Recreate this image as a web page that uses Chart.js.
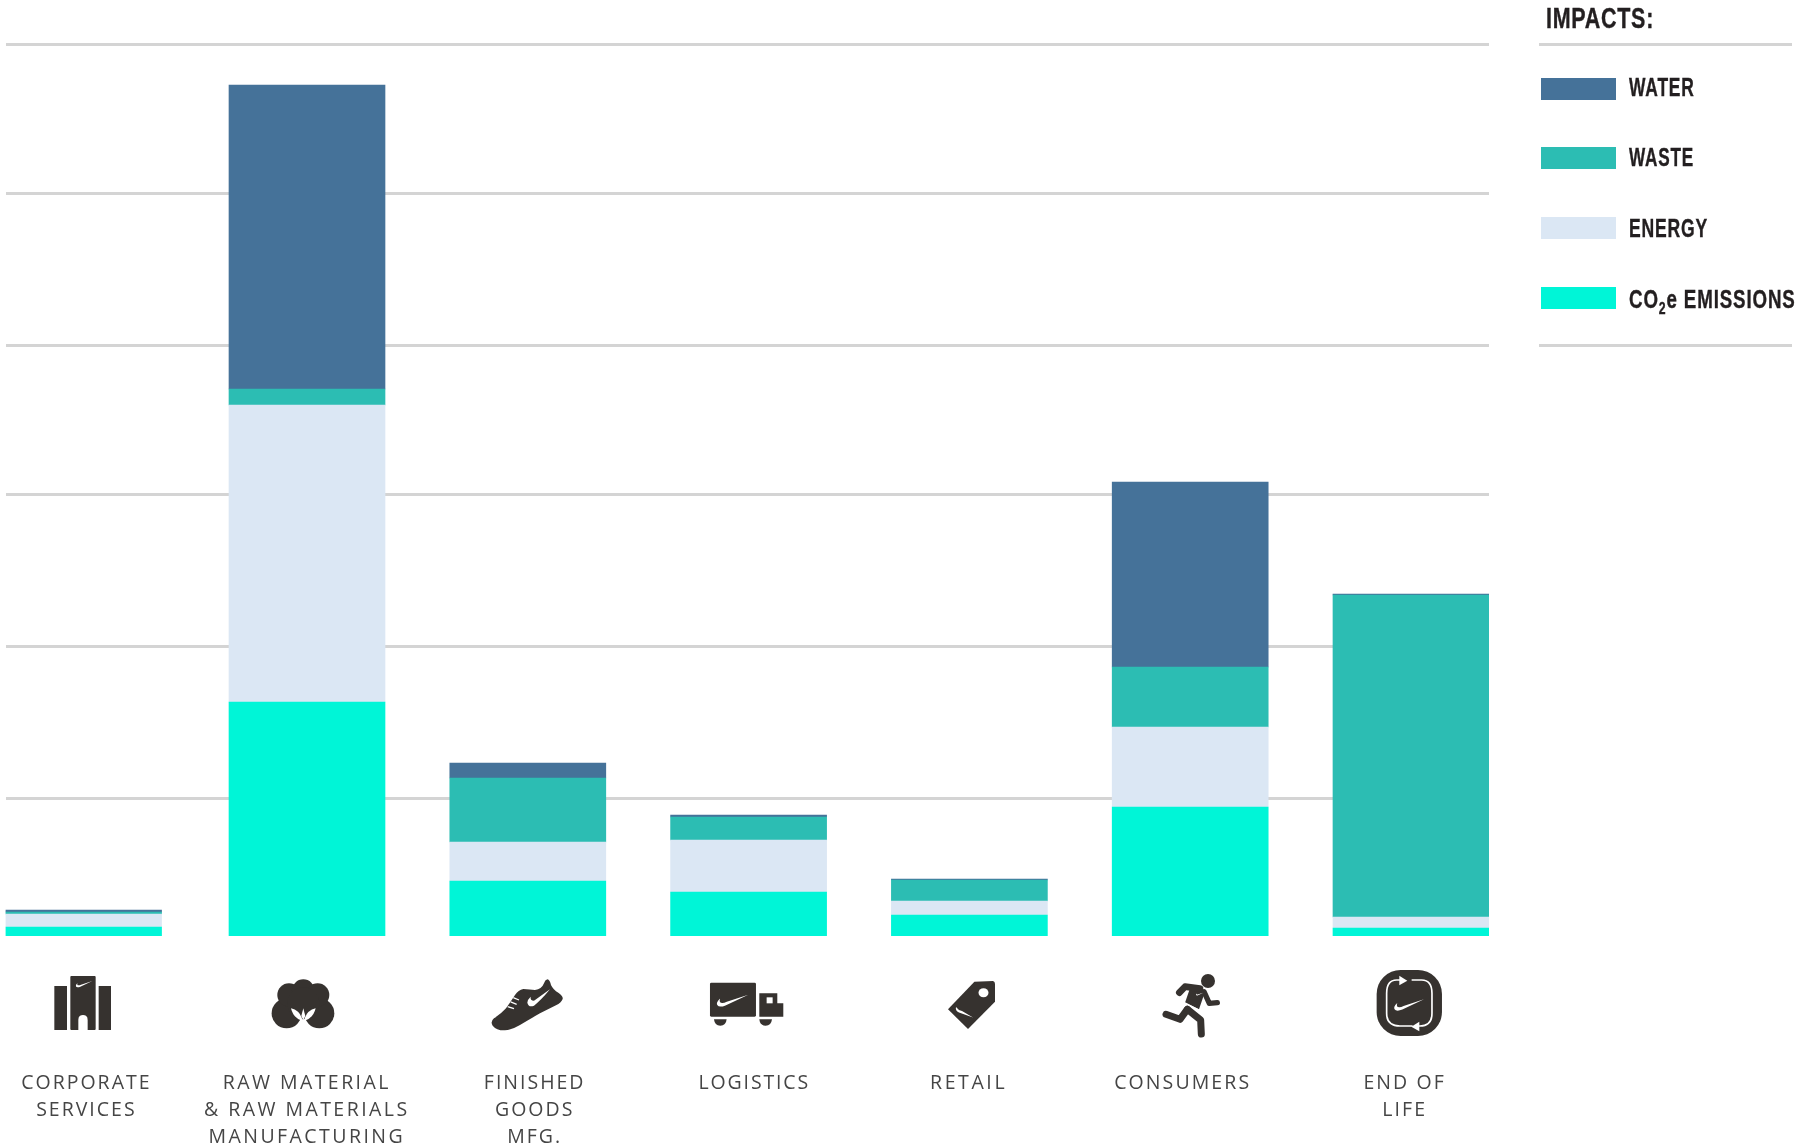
<!DOCTYPE html>
<html>
<head>
<meta charset="utf-8">
<title>Impacts</title>
<script src="https://cdn.jsdelivr.net/npm/chart.js@4/dist/chart.umd.js"></script>
<style>
  html, body { margin: 0; padding: 0; background: #fff; }
  #wrap { position: relative; width: 1795px; height: 1146px; overflow: hidden; }
  #chart { position: absolute; left: 0; top: 0; }
  #icons { position: absolute; left: 0; top: 0; }
  .cat {
    position: absolute; top: 1068px; width: 300px; text-align: center;
    font: 400 19.5px/27px "Open Sans", sans-serif; color: #454545;
    white-space: pre-line;
  }
  .rule { position: absolute; left: 1539px; width: 253px; height: 3px; background: #d4d4d4; }
  .legend-title, .legend-text {
    position: absolute; white-space: nowrap; color: #231f20; font-weight: 700;
    font-family: "Liberation Sans", sans-serif;
    transform-origin: left top;
    -webkit-text-stroke: .4px #231f20;
  }
  .legend-title { left: 1546px; top: 1px; font-size: 29px; line-height: 34px; letter-spacing: 1px; transform: scaleX(.74); }
  .legend-text { left: 1629px; font-size: 26px; line-height: 30px; letter-spacing: 1.2px; }
  .legend-text sub { font-size: 17px; line-height: 0; }
  .swatch { position: absolute; left: 1541px; width: 75px; height: 22px; }
</style>
</head>
<body>
<div id="wrap">
  <canvas id="chart" width="1795" height="1146"></canvas>

  <svg id="icons" width="1795" height="1146" viewBox="0 0 1795 1146">
    <defs>
      <path id="swoosh" d="M100 0 L28 34 Q8 42 2 33 Q-3 25 11 12 Q6 26 18 26 Q24 26 32 22 Z"/>
    </defs>
    <g fill="#36322f">
      <!-- building -->
      <g transform="translate(30,960) scale(.3333)">
        <rect x="73" y="78" width="38" height="132"/>
        <rect x="121" y="48" width="76" height="162" rx="3"/>
        <rect x="206" y="78" width="37" height="132"/>
        <path fill="#fff" d="M145 211 V180 Q145 165 159 165 Q173 165 173 180 V211 Z"/>
        <use href="#swoosh" fill="#fff" transform="translate(137,63) scale(.5)"/>
      </g>
      <!-- cotton -->
      <g transform="translate(30,960) scale(.3333)">
        <circle cx="770" cy="160" r="45"/>
        <circle cx="868" cy="160" r="45"/>
        <circle cx="777" cy="105" r="35"/>
        <circle cx="820" cy="92" r="34"/>
        <circle cx="863" cy="105" r="35"/>
        <circle cx="820" cy="130" r="48"/>
        <path fill="#fff" d="M783 145 Q812 152 818 183 Q790 175 783 145 Z"/>
        <path fill="#fff" d="M857 145 Q828 152 822 183 Q850 175 857 145 Z"/>
        <path fill="#fff" d="M820 145 L826 168 L820 180 L814 168 Z"/>
        <path fill="#fff" d="M820 183 L806 208 L834 208 Z"/>
      </g>
      <!-- shoe -->
      <g transform="translate(470,960) scale(.3333)">
        <path d="M232 58 Q240 60 243 75 Q250 90 265 98 Q280 108 278 117 Q274 128 258 136 L210 160 Q175 180 150 195 Q125 210 105 211 Q80 212 68 197 Q60 185 72 175 Q95 160 108 145 Q122 125 135 105 Q145 90 160 87 Q180 88 195 90 Q215 88 222 70 Q225 60 232 58 Z"/>
        <path fill="#fff" d="M240 88 Q212 122 192 137 Q176 144 172 128 Q173 118 182 110 Q180 122 192 122 Z"/>
        <path stroke="#fff" stroke-width="4" d="M130 113 L147 120 M122 126 L140 133 M113 140 L132 146"/>
      </g>
      <!-- truck -->
      <g transform="translate(470,960) scale(.3333)">
        <rect x="720" y="68" width="138" height="102" rx="4"/>
        <path d="M868 100 H922 V130 H940 V170 H868 Z"/>
        <rect x="890" y="112" width="18" height="18" fill="#fff"/>
        <path d="M732 178 H770 Q768 197 751 197 Q734 197 732 178 Z"/>
        <path d="M868 178 H906 Q904 197 887 197 Q870 197 868 178 Z"/>
        <use href="#swoosh" fill="#fff" transform="translate(740,104) scale(.95)"/>
      </g>
      <!-- tag -->
      <path d="M974.4 981.7 L993 981 Q995 981.5 995 984 V1001.7 L968 1029 L948 1009.3 Z"/>
      <ellipse cx="983.5" cy="992.7" rx="5" ry="4.5" fill="#fff"/>
      <path fill="#fff" d="M973 1017.5 L959 1012.5 Q955 1010.5 956 1007 Q958 1010 962 1011 Z"/>
      <!-- runner -->
      <g transform="translate(1130,960) scale(.3333)">
        <circle cx="234" cy="63" r="21"/>
        <path d="M180 85 L225 95 L207 148 L165 128 Z"/>
        <path fill="none" stroke="#36322f" stroke-width="20" stroke-linecap="round" stroke-linejoin="round" d="M148 98 L165 80 L210 86"/>
        <path fill="none" stroke="#36322f" stroke-width="16" stroke-linecap="round" stroke-linejoin="round" d="M222 95 L238 130 L262 128"/>
        <path fill="none" stroke="#36322f" stroke-width="21" stroke-linecap="round" stroke-linejoin="round" d="M172 148 L150 178 L108 163"/>
        <path fill="none" stroke="#36322f" stroke-width="21" stroke-linejoin="round" stroke-linecap="round" d="M172 148 L212 180 L214 222"/>
        <path stroke="#fff" stroke-width="4" d="M163 128 L207 150"/>
        <use href="#swoosh" fill="#fff" transform="translate(198,98) scale(.22)"/>
      </g>
      <!-- end of life -->
      <g transform="translate(1130,960) scale(.3333)">
        <rect x="740" y="30" width="196" height="198" rx="72"/>
        <path fill="none" stroke="#fff" stroke-width="5" d="M812 60 H800 Q770 60 770 100 V160 Q770 198 810 198 H848"/>
        <path fill="none" stroke="#fff" stroke-width="5" d="M845 60 H875 Q906 60 906 100 V160 Q906 198 870 198 H865"/>
        <path fill="#fff" d="M808 47 L832 62 L808 76 Z"/>
        <path fill="#fff" d="M868 185 L844 200 L868 214 Z"/>
        <use href="#swoosh" fill="#fff" transform="translate(792,118) scale(.9)"/>
      </g>
    </g>
  </svg>

  <div class="rule" style="top:43px"></div>
  <div class="rule" style="top:344px"></div>
  <div class="legend-title">IMPACTS:</div>
  <div id="legend"></div>
  <div id="cats"></div>
</div>

<script>
const categories = [
  "CORPORATE\nSERVICES",
  "RAW MATERIAL\n& RAW MATERIALS\nMANUFACTURING",
  "FINISHED\nGOODS\nMFG.",
  "LOGISTICS",
  "RETAIL",
  "CONSUMERS",
  "END OF\nLIFE"
];
const co2Values    = [9, 234, 55, 44, 21, 129, 8];
const energyValues = [13, 297, 39, 52, 14, 80, 11];
const wasteValues  = [2, 16, 64, 23, 21, 60, 322];
const waterValues  = [2, 304, 15, 2, 1, 185, 1];
const gridValues   = [137.7, 289.7, 441.3, 591, 742.5, 892];

// first bar sits a bit left of the regular spacing
const barSlots = [-0.012, 1, 2, 3, 4, 5, 6];

// where the label under each bar is centred, they don't sit right under the bars
const labelCenters = [86.4, 306.8, 534.7, 754.3, 968.6, 1182.7, 1404.7];
const labelSpacing = [2, 2.45, 2, 1.85, 2.6, 2.1, 2.1];

const toPoints = values => values.map((v, i) => ({ x: barSlots[i], y: v }));

const chart = new Chart(document.getElementById("chart"), {
  type: "bar",
  data: {
    datasets: [
      { label: "CO2e EMISSIONS", data: toPoints(co2Values), backgroundColor: "#00f5d7" },
      { label: "ENERGY", data: toPoints(energyValues), backgroundColor: "#dbe7f4" },
      { label: "WASTE", data: toPoints(wasteValues), backgroundColor: "#2cbdb3" },
      { label: "WATER", data: toPoints(waterValues), backgroundColor: "#457299" }
    ]
  },
  options: {
    responsive: false,
    animation: false,
    devicePixelRatio: 1,
    layout: { padding: { left: 5.5, right: 306, top: 0, bottom: 210 } },
    datasets: { bar: { barThickness: 156, borderWidth: 0 } },
    plugins: { legend: { display: false }, tooltip: { enabled: false }, title: { display: false } },
    scales: {
      x: {
        type: "linear",
        stacked: true,
        display: false,
        offset: false,
        min: -0.3655,
        max: 6.3533
      },
      y: {
        stacked: true,
        min: 0,
        max: 936,
        afterBuildTicks: scale => { scale.ticks = gridValues.map(v => ({ value: v })); },
        ticks: { display: false },
        border: { display: false },
        grid: { color: "#d4d4d4", lineWidth: 3, drawTicks: false }
      }
    }
  }
});

// legend reads top to bottom, the stack goes bottom to top
const legendBox = document.getElementById("legend");
const swatchTops = [78, 147, 217, 287];
const legendTextTops = [71.5, 142, 213, 283.5];
const legendStretch = [.67, .66, .675, .72];
chart.data.datasets.slice().reverse().forEach((ds, i) => {
  const sw = document.createElement("div");
  sw.className = "swatch";
  sw.style.top = swatchTops[i] + "px";
  sw.style.background = ds.backgroundColor;
  legendBox.appendChild(sw);

  const txt = document.createElement("div");
  txt.className = "legend-text";
  txt.style.top = legendTextTops[i] + "px";
  txt.style.transform = "scaleX(" + legendStretch[i] + ")";
  txt.innerHTML = ds.label.replace("CO2e", "CO<sub>2</sub>e");
  legendBox.appendChild(txt);
});

const catsBox = document.getElementById("cats");
categories.forEach((name, i) => {
  const d = document.createElement("div");
  d.className = "cat";
  d.textContent = name;
  d.style.left = (labelCenters[i] - 150) + "px";
  d.style.letterSpacing = labelSpacing[i] + "px";
  catsBox.appendChild(d);
});
</script>
</body>
</html>
